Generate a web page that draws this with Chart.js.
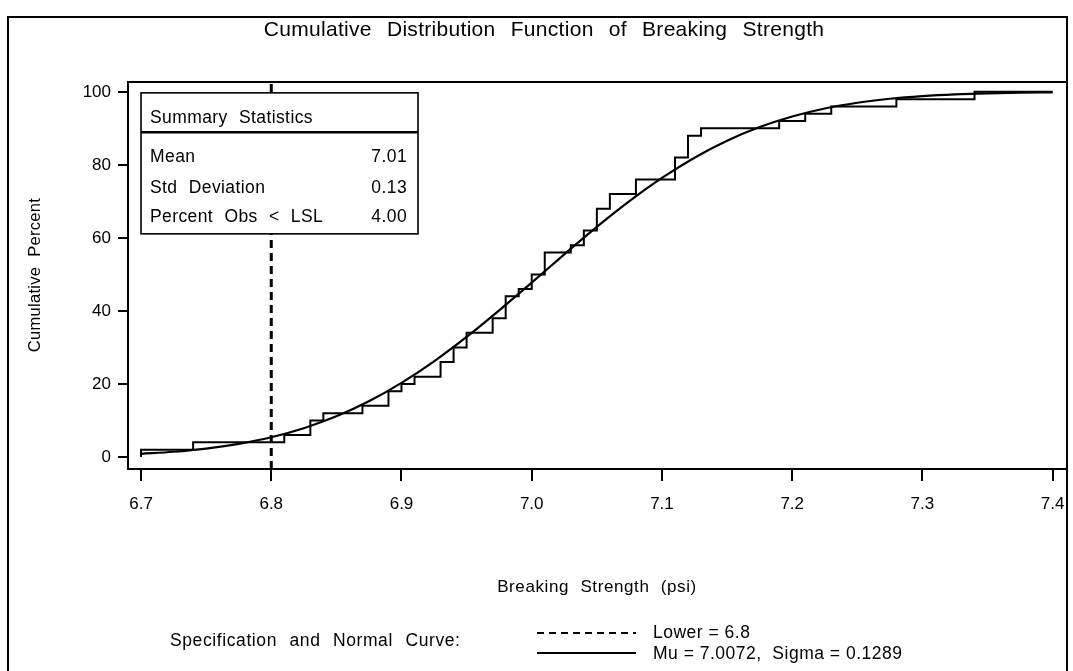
<!DOCTYPE html>
<html><head><meta charset="utf-8">
<script src="https://cdn.jsdelivr.net/npm/chart.js@4"></script>
<style>html,body{margin:0;padding:0;background:#fff}canvas{display:block}</style>
</head><body>
<canvas id="c" width="1073" height="671"></canvas>
<script>
// ---- data ----
const xTicks = [6.7, 6.8, 6.9, 7.0, 7.1, 7.2, 7.3, 7.4];
const yTicks = [0, 20, 40, 60, 80, 100];
// empirical CDF (breaking strength, cumulative percent after each jump)
const stepX   = [6.70, 6.70, 6.74, 6.81, 6.83, 6.84, 6.87, 6.89, 6.90, 6.91, 6.93, 6.94, 6.95, 6.97, 6.98, 6.99, 7.00, 7.01, 7.03, 7.04, 7.05, 7.06, 7.08, 7.11, 7.12, 7.13, 7.19, 7.21, 7.23, 7.28, 7.34, 7.40];
const stepPct = [0,    2,    4,    6,    10,   12,   14,   18,   20,   22,   26,   30,   34,   38,   44,   46,   50,   56,   58,   62,   68,   72,   76,   82,   88,   90,   92,   94,   96,   98,   100,  100];
// fitted normal curve (Mu=7.0072, Sigma=0.1289), cumulative percent
const curveX   = [6.700, 6.725, 6.750, 6.775, 6.800, 6.825, 6.850, 6.875, 6.900, 6.925, 6.950, 6.975, 7.000, 7.025, 7.050, 7.075, 7.100, 7.125, 7.150, 7.175, 7.200, 7.225, 7.250, 7.275, 7.300, 7.325, 7.350, 7.375, 7.400];
const curvePct = [0.86, 1.43, 2.30, 3.59, 5.40, 7.88, 11.13, 15.24, 20.28, 26.18, 32.86, 40.14, 47.77, 55.49, 63.01, 70.05, 76.42, 81.96, 86.60, 90.35, 93.26, 95.45, 97.02, 98.11, 98.84, 99.32, 99.61, 99.78, 99.88];
const lowerSpec = 6.8;
const statLabels = ['Mean', 'Std Deviation', 'Percent Obs < LSL'];
const statValues = ['7.01', '0.13', '4.00'];
const titleText = 'Cumulative Distribution Function of Breaking Strength';
const xTitle = 'Breaking Strength (psi)';
const yTitle = 'Cumulative Percent';
const legendTitle = 'Specification and Normal Curve:';
const legendItems = ['Lower = 6.8', 'Mu = 7.0072,  Sigma = 0.1289'];

// ---- scale ranges ----
const X_MIN = 6.69, X_MAX = 7.411;
const Y_MIN = -3.3, Y_MAX = 102.7;

const FONT = '"Liberation Sans", Arial, Helvetica, sans-serif';
function txt(ctx, s, x, y, size, align, ls, ws) {
  ctx.font = size + 'px ' + FONT;
  ctx.letterSpacing = (ls || 0) + 'px';
  ctx.wordSpacing = (ws || 0) + 'px';
  ctx.textAlign = align || 'left';
  ctx.textBaseline = 'middle';
  ctx.fillStyle = '#000';
  ctx.fillText(s, x, y);
}

const deco = {
  id: 'deco',
  beforeDraw(chart) {
    const ctx = chart.ctx;
    ctx.save();
    ctx.fillStyle = '#fff';
    ctx.fillRect(0, 0, chart.width, chart.height);
    ctx.restore();
  },
  afterDraw(chart) {
    const ctx = chart.ctx;
    const a = chart.chartArea;
    const xs = chart.scales.x, ys = chart.scales.y;
    ctx.save();
    // outer frame
    ctx.strokeStyle = '#000';
    ctx.lineWidth = 2;
    ctx.beginPath();
    ctx.moveTo(8, 700); ctx.lineTo(8, 17); ctx.lineTo(1067, 17); ctx.lineTo(1067, 700);
    ctx.stroke();
    // plot box top and right
    ctx.beginPath();
    ctx.moveTo(a.left, a.top); ctx.lineTo(a.right, a.top); ctx.lineTo(a.right, a.bottom);
    ctx.stroke();

    // title
    txt(ctx, titleText, 544, 30, 21, 'center', 0.3, 9);
    // axis titles
    txt(ctx, xTitle, 597, 587, 17, 'center', 0.6, 6);
    ctx.save();
    ctx.translate(35, 275);
    ctx.rotate(-Math.PI / 2);
    txt(ctx, yTitle, 0, 0, 16.5, 'center', 0.3, 5);
    ctx.restore();

    // summary statistics box
    const bx = xs.getPixelForValue(6.7), by = ys.getPixelForValue(100) + 1;
    const bw = 277, bh = 141;
    ctx.fillStyle = '#fff';
    ctx.fillRect(bx, by, bw, bh);
    ctx.strokeStyle = '#000';
    ctx.lineWidth = 1.6;
    ctx.strokeRect(bx, by, bw, bh);
    ctx.lineWidth = 2.5;
    ctx.beginPath();
    ctx.moveTo(bx, by + 39.5); ctx.lineTo(bx + bw, by + 39.5);
    ctx.stroke();
    txt(ctx, 'Summary Statistics', bx + 9, by + 25, 17.5, 'left', 0.4, 6);
    const rowY = [64, 95, 124];
    for (let i = 0; i < statLabels.length; i++) {
      txt(ctx, statLabels[i], bx + 9, by + rowY[i], 17.5, 'left', 0.4, 6);
      txt(ctx, statValues[i], bx + bw - 11, by + rowY[i], 17.5, 'right', 0.4, 6);
    }

    // legend
    txt(ctx, legendTitle, 170, 641, 17.5, 'left', 0.6, 7);
    ctx.strokeStyle = '#000';
    ctx.lineWidth = 2;
    ctx.setLineDash([7, 5]);
    ctx.beginPath(); ctx.moveTo(537, 633); ctx.lineTo(636, 633); ctx.stroke();
    ctx.setLineDash([]);
    ctx.beginPath(); ctx.moveTo(537, 653); ctx.lineTo(636, 653); ctx.stroke();
    txt(ctx, legendItems[0], 653, 633, 17.5, 'left', 0.5, 0);
    txt(ctx, legendItems[1], 653, 654, 17.5, 'left', 0.5, 0);
    ctx.restore();
  }
};

const stepData = stepX.map((x, i) => ({ x: x, y: stepPct[i] }));
const curveData = curveX.map((x, i) => ({ x: x, y: curvePct[i] }));
const specData = [{ x: lowerSpec, y: Y_MIN }, { x: lowerSpec, y: Y_MAX }];

new Chart(document.getElementById('c'), {
  type: 'scatter',
  data: {
    datasets: [
      { data: specData, showLine: true, borderColor: '#000', borderWidth: 3, borderDash: [8, 5], pointRadius: 0, fill: false },
      { data: stepData, showLine: true, stepped: 'before', borderColor: '#000', borderWidth: 2, pointRadius: 0, fill: false },
      { data: curveData, showLine: true, borderColor: '#000', borderWidth: 2.2, pointRadius: 0, tension: 0.4, cubicInterpolationMode: 'monotone', fill: false }
    ]
  },
  options: {
    responsive: false,
    animation: false,
    devicePixelRatio: 1,
    layout: { padding: { left: 8, right: 6, top: 82, bottom: 0 } },
    plugins: { legend: { display: false }, title: { display: false }, tooltip: { enabled: false } },
    scales: {
      x: {
        type: 'linear', min: X_MIN, max: X_MAX,
        afterBuildTicks: s => { s.ticks = xTicks.map(v => ({ value: v })); },
        afterFit: s => { s.height = 202; s.paddingLeft = 0; s.paddingRight = 0; },
        grid: { drawOnChartArea: false, drawTicks: true, tickLength: 12, color: '#000', lineWidth: 2 },
        border: { display: true, color: '#000', width: 2 },
        ticks: { color: '#000', font: { family: FONT, size: 17 }, padding: 13, maxRotation: 0, autoSkip: false,
          callback: v => Number(v).toFixed(1) }
      },
      y: {
        type: 'linear', min: Y_MIN, max: Y_MAX,
        afterBuildTicks: s => { s.ticks = yTicks.map(v => ({ value: v })); },
        afterFit: s => { s.width = 120; s.paddingTop = 0; s.paddingBottom = 0; },
        grid: { drawOnChartArea: false, drawTicks: true, tickLength: 10, color: '#000', lineWidth: 2 },
        border: { display: true, color: '#000', width: 2 },
        ticks: { color: '#000', font: { family: FONT, size: 17 }, padding: 7, autoSkip: false,
          callback: v => String(Math.round(v)) }
      }
    }
  },
  plugins: [deco]
});
</script>
</body></html>
